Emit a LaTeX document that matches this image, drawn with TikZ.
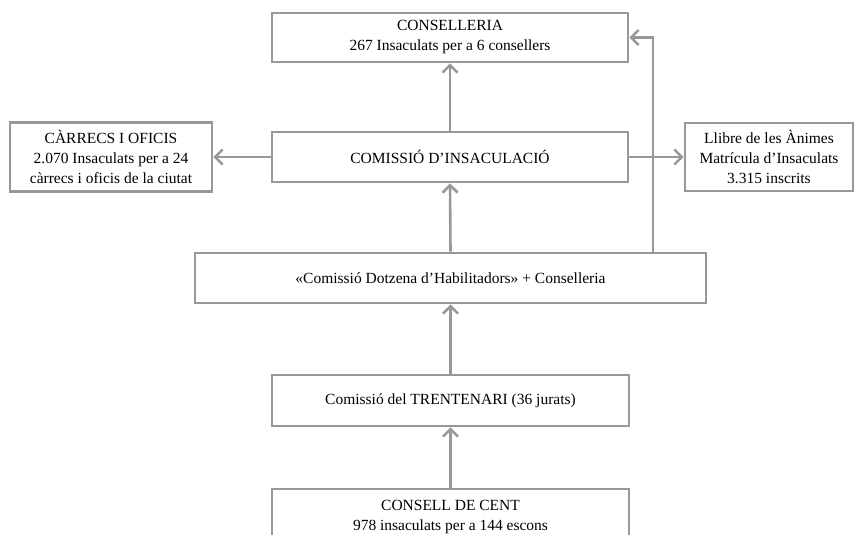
\documentclass[tikz,border=0pt]{standalone}
\usepackage{fontspec}
\setmainfont{Liberation Serif}
\usetikzlibrary{positioning,arrows.meta}
\definecolor{linegray}{RGB}{152,152,152}

\begin{document}
\begin{tikzpicture}[
            x=1pt, y=-1pt,
            box/.style={rectangle, draw=linegray, line width=2.6pt, fill=white, align=center, inner sep=0pt, font=\fontsize{15.5}{20}\selectfont},
            link/.style={draw=linegray, line width=2.6pt, -{Straight Barb[length=7.5pt,width=15pt]}},
            ]
            \useasboundingbox (0,0) rectangle (854,535);
            \clip (0,0) rectangle (854,535);

            %Nodes
            \node[box, minimum width=356pt, minimum height=49pt] (conselleria) at (450,37.5) {CONSELLERIA\\267 Insaculats per a 6 consellers};
            \node[box, minimum width=356pt, minimum height=50pt] (insaculacio) at (450,157) {COMISSIÓ D’INSACULACIÓ};
            \node[box, minimum width=202pt, minimum height=69pt] (carrecs) at (111,157) {CÀRRECS I OFICIS\\2.070 Insaculats per a 24\\càrrecs i oficis de la ciutat};
            \node[box, minimum width=168pt, minimum height=68pt] (llibre) at (769,157) {Llibre de les Ànimes\\Matrícula d’Insaculats\\3.315 inscrits};
            \node[box, minimum width=511pt, minimum height=50pt] (dotzena) at (450.5,278) {«Comissió Dotzena d’Habilitadors» + Conselleria};
            \node[box, minimum width=357pt, minimum height=51pt] (trentenari) at (450.5,400.5) {Comissió del TRENTENARI (36 jurats)};
            \node[box, minimum width=357pt, minimum height=56pt] (cent) at (450.5,517) {CONSELL DE CENT\\978 insaculats per a 144 escons};
            \coordinate (turn) at (653,38);

            %Lines
            \draw[link] (insaculacio.west) -- (carrecs.east);
            \draw[link] (insaculacio.east) -- (llibre.west);
            \draw[link] (dotzena.north -| turn) |- (conselleria.east);
            \draw[link] (insaculacio.north) -- (conselleria.south);
            \draw[link] (dotzena.north) -- (insaculacio.south);
            \draw[link] (trentenari.north) -- (dotzena.south);
            \draw[link] (cent.north) -- (trentenari.south);

        \end{tikzpicture}
\end{document}
